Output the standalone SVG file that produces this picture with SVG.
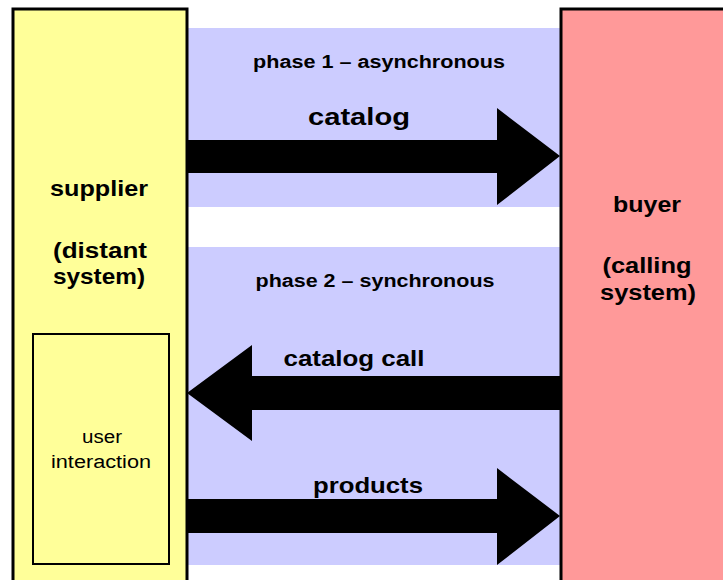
<svg xmlns="http://www.w3.org/2000/svg" width="723" height="580" viewBox="0 0 723 580">
<style>
text{font-family:"Liberation Sans",Arial,sans-serif;fill:#000;text-anchor:middle}
.b{font-weight:bold;font-size:22px}
.ph{font-weight:bold;font-size:18px}
.lbl{font-weight:bold;font-size:24px}
.sm{font-size:18px}
.arrow{fill:#000}
</style>
<rect x="0" y="0" width="723" height="580" fill="#fff"/>
<g id="bands">
<rect x="187" y="28" width="374" height="179" fill="#ccccff"/>
<rect x="187" y="247" width="374" height="318" fill="#ccccff"/>
<text class="ph" x="379" y="68" textLength="252" lengthAdjust="spacingAndGlyphs">phase 1 – asynchronous</text>
<text class="ph" x="375" y="287" textLength="239" lengthAdjust="spacingAndGlyphs">phase 2 – synchronous</text>
</g>
<g id="supplier">
<rect x="13" y="9" width="174" height="590" fill="#ffff99" stroke="#000" stroke-width="3"/>
<text class="b" x="99" y="196" textLength="98" lengthAdjust="spacingAndGlyphs">supplier</text>
<text class="b" x="100" y="258" textLength="94" lengthAdjust="spacingAndGlyphs">(distant</text>
<text class="b" x="99" y="284" textLength="92" lengthAdjust="spacingAndGlyphs">system)</text>
</g>
<g id="user-interaction">
<rect x="33" y="334" width="136" height="230" fill="#ffff99" stroke="#000" stroke-width="2"/>
<text class="sm" x="102" y="443" textLength="40" lengthAdjust="spacingAndGlyphs">user</text>
<text class="sm" x="101" y="468" textLength="100" lengthAdjust="spacingAndGlyphs">interaction</text>
</g>
<g id="buyer">
<rect x="561" y="9" width="180" height="590" fill="#ff9999" stroke="#000" stroke-width="3"/>
<text class="b" x="647" y="212" textLength="68" lengthAdjust="spacingAndGlyphs">buyer</text>
<text class="b" x="647" y="273" textLength="89" lengthAdjust="spacingAndGlyphs">(calling</text>
<text class="b" x="648" y="300" textLength="96" lengthAdjust="spacingAndGlyphs">system)</text>
</g>
<g id="connectors">
<polygon class="arrow" points="187,140 497,140 497,108 560,156 497,205 497,173 187,173"/>
<polygon class="arrow" points="560,376 252,376 252,345 187,393 252,441 252,410 560,410"/>
<polygon class="arrow" points="187,499 497,499 497,468 560,516 497,565 497,533 187,533"/>
<text class="lbl" x="359" y="125" textLength="102" lengthAdjust="spacingAndGlyphs">catalog</text>
<text class="b" x="354" y="366" textLength="141" lengthAdjust="spacingAndGlyphs">catalog call</text>
<text class="b" x="368" y="493" textLength="110" lengthAdjust="spacingAndGlyphs">products</text>
</g>
</svg>
